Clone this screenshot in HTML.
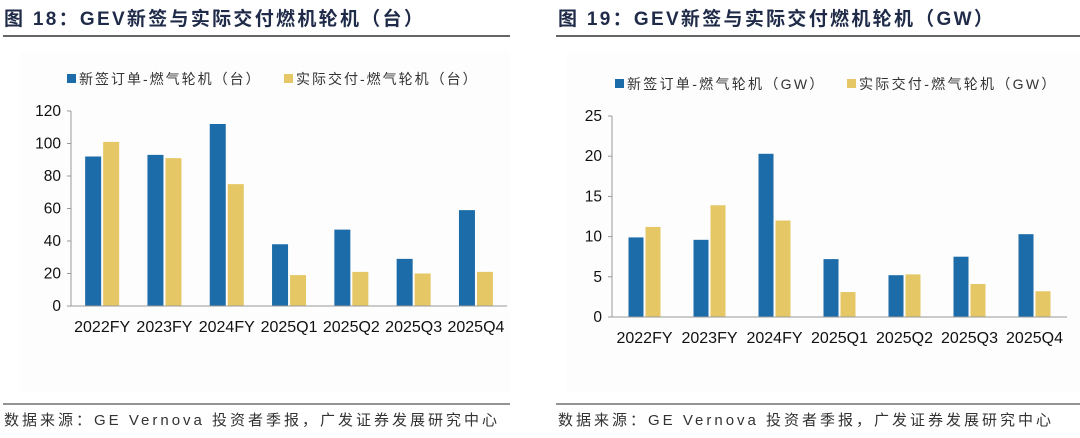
<!DOCTYPE html>
<html><head><meta charset="utf-8"><style>
body{margin:0;background:#fff;}
svg{display:block;font-family:"Liberation Sans","Noto Sans CJK SC",sans-serif;}
</style></head><body>
<svg id="s" width="1080" height="438" viewBox="0 0 1080 438">
<g>
<text x="4" y="25" font-size="19" font-weight="bold" fill="#1f2b48" letter-spacing="2.3">图  18：GEV新签与实际交付燃机轮机（台）</text>
<line x1="3" y1="36" x2="510" y2="36" stroke="#333" stroke-width="1.5"/>
<rect x="20" y="52" width="490" height="340" fill="#fdfdfd"/>
<rect x="67" y="74" width="9" height="9" fill="#1b6ca8"/>
<text x="79" y="84" font-size="14" fill="#333" letter-spacing="2">新签订单-燃气轮机（台）</text>
<rect x="284" y="74" width="9" height="9" fill="#e5c765"/>
<text x="296" y="84" font-size="14" fill="#333" letter-spacing="2">实际交付-燃气轮机（台）</text>
<g id="L"></g>
<line x1="3" y1="404" x2="510" y2="404" stroke="#555" stroke-width="1.2"/>
<text x="4" y="425" font-size="15" fill="#333" letter-spacing="3">数据来源：GE Vernova 投资者季报，广发证券发展研究中心</text>
</g>
<g>
<text x="558" y="25" font-size="19" font-weight="bold" fill="#1f2b48" letter-spacing="2.3">图  19：GEV新签与实际交付燃机轮机（GW）</text>
<line x1="556" y1="36" x2="1080" y2="36" stroke="#333" stroke-width="1.5"/>
<rect x="567" y="52" width="513" height="340" fill="#fdfdfd"/>
<rect x="615" y="79" width="9" height="9" fill="#1b6ca8"/>
<text x="627" y="89" font-size="14" fill="#333" letter-spacing="2.3">新签订单-燃气轮机（GW）</text>
<rect x="847" y="79" width="9" height="9" fill="#e5c765"/>
<text x="859" y="89" font-size="14" fill="#333" letter-spacing="2.3">实际交付-燃气轮机（GW）</text>
<g id="R"></g>
<line x1="556" y1="404" x2="1080" y2="404" stroke="#555" stroke-width="1.2"/>
<text x="558" y="425" font-size="15" fill="#333" letter-spacing="3">数据来源：GE Vernova 投资者季报，广发证券发展研究中心</text>
</g>
</svg>
<script>
const categories = ["2022FY","2023FY","2024FY","2025Q1","2025Q2","2025Q3","2025Q4"];
const unitsNew = [92,93,112,38,47,29,59];
const unitsDelivered = [101,91,75,19,21,20,21];
const unitsTicks = [0,20,40,60,80,100,120];
const gwNew = [9.9,9.6,20.3,7.2,5.2,7.5,10.3];
const gwDelivered = [11.2,13.9,12.0,3.1,5.3,4.1,3.2];
const gwTicks = [0,5,10,15,20,25];
const NS="http://www.w3.org/2000/svg";
function mk(p,t,a){const e=document.createElementNS(NS,t);for(const k in a)e.setAttribute(k,a[k]);p.appendChild(e);return e;}
function draw(g,cfg,newV,delV,ticks,prefix){
  const y=v=>cfg.y0-(v-ticks[0])/(ticks[ticks.length-1]-ticks[0])*(cfg.y0-cfg.yTop);
  const x=i=>cfg.x0+cfg.step*(i+0.5);
  const ax=mk(g,'line',{x1:cfg.x0,y1:cfg.yTop,x2:cfg.x0,y2:cfg.y0,stroke:'#999'});
  
  
  ticks.forEach(t=>{
    const tl=mk(g,'line',{x1:cfg.x0-4,y1:y(t),x2:cfg.x0,y2:y(t),stroke:'#999'});
    
    
    const tx=mk(g,'text',{x:cfg.x0-10,y:y(t)+5,'font-size':15.5,'text-anchor':'end',fill:'#111'});
    tx.textContent=t;
    
    
  });
  categories.forEach((c,i)=>{
    const b1=mk(g,'rect',{x:x(i)-cfg.bw-1,y:y(newV[i]),width:cfg.bw,height:y(0)-y(newV[i]),fill:'#1b6ca8'});
    
    
    const b2=mk(g,'rect',{x:x(i)+1,y:y(delV[i]),width:cfg.bw,height:y(0)-y(delV[i]),fill:'#e5c765'});
    
    
    const t=mk(g,'text',{x:x(i),y:cfg.y0+26,'font-size':16,'text-anchor':'middle',fill:'#111'});
    t.textContent=c;
    
    
  });
  const xa=mk(g,'line',{x1:cfg.x0,y1:cfg.y0,x2:cfg.x0+cfg.step*categories.length,y2:cfg.y0,stroke:'#999'});
  
  
}
draw(document.getElementById('L'),{x0:71,y0:306,yTop:111,step:62.3,bw:16},unitsNew,unitsDelivered,unitsTicks,'left');
draw(document.getElementById('R'),{x0:612,y0:317,yTop:116,step:65,bw:15},gwNew,gwDelivered,gwTicks,'right');
</script>
</body></html>
